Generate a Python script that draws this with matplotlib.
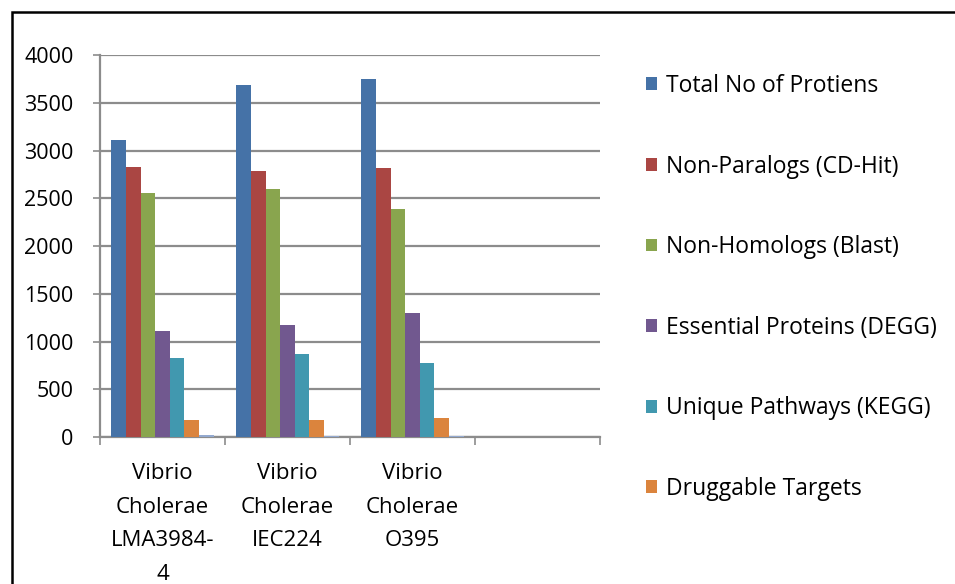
import matplotlib
matplotlib.use("Agg")
import matplotlib.pyplot as plt
from matplotlib.patches import Patch, Rectangle
import numpy as np

plt.rcParams['font.family'] = ['Open Sans', 'DejaVu Sans']

categories = ["Vibrio\nCholerae\nLMA3984-\n4", "Vibrio\nCholerae\nIEC224", "Vibrio\nCholerae\nO395", ""]
series_names = [
    "Total No of Protiens",
    "Non-Paralogs (CD-Hit)",
    "Non-Homologs (Blast)",
    "Essential Proteins (DEGG)",
    "Unique Pathways (KEGG)",
    "Druggable Targets",
    "",
]
total_proteins = [3108, 3690, 3749]
non_paralogs = [2829, 2787, 2815]
non_homologs = [2557, 2599, 2390]
essential = [1111, 1174, 1303]
unique_pathways = [822, 868, 780]
druggable = [174, 178, 195]
final_targets = [18, 15, 15]

values = [total_proteins, non_paralogs, non_homologs, essential,
          unique_pathways, druggable, final_targets]
colors = ["#4572A7", "#AA4643", "#89A54E", "#71588F", "#4198AF", "#DB843D", "#93A9CF"]
yticks = [0, 500, 1000, 1500, 2000, 2500, 3000, 3500, 4000]

W, H = 955, 584
fig = plt.figure(figsize=(W / 100, H / 100), dpi=100)
ax = fig.add_axes([100 / W, 1 - 437 / H, 500 / W, (437 - 55) / H])

n = len(values)
bw = 0.117
x = np.arange(len(total_proteins))
handles = []
for i, (vals, col, name) in enumerate(zip(values, colors, series_names)):
    offs = (i - (n - 1) / 2) * bw
    ax.bar(x + offs, vals, width=bw, color=col, edgecolor="none", zorder=3)
    if name:
        handles.append(Patch(facecolor=col, edgecolor="none", label=name))

ax.set_xlim(-0.5, len(categories) - 0.5)
ax.set_ylim(0, 4000)
ax.set_yticks(yticks)
ax.set_yticklabels([str(v) for v in yticks], fontsize=15.5, color="#000000")
ax.yaxis.grid(True, color="#8C8C8C", linewidth=1.6, zorder=0)
ax.set_axisbelow(True)

ax.set_xticks(np.arange(len(categories)))
ax.set_xticklabels(categories, fontsize=16, linespacing=1.78, va="top")
ax.set_xticks(np.arange(len(categories) + 1) - 0.5, minor=True)
ax.tick_params(axis="x", which="major", length=0, pad=19)
ax.tick_params(axis="x", which="minor", length=6, width=1.2, color="#8C8C8C")
ax.tick_params(axis="y", length=5, width=1.2, color="#8C8C8C", pad=14)

for s in ["top", "right"]:
    ax.spines[s].set_visible(False)
for s in ["left", "bottom"]:
    ax.spines[s].set_color("#8C8C8C")
    ax.spines[s].set_linewidth(1.6)

fig.legend(handles=handles, loc="upper left", bbox_to_anchor=(646 / W, 1 - 74 / H),
           frameon=False, fontsize=16.5, handlelength=0.48, handleheight=0.48,
           handletextpad=0.4, labelspacing=2.47, borderaxespad=0, borderpad=0)

# chart area border
fig.patches.append(Rectangle((12 / W, -0.05), 1.1, 1 - 12 / H + 0.05,
                             transform=fig.transFigure, fill=False,
                             edgecolor="#000000", linewidth=1.8))

fig.savefig("out.png", dpi=100)
